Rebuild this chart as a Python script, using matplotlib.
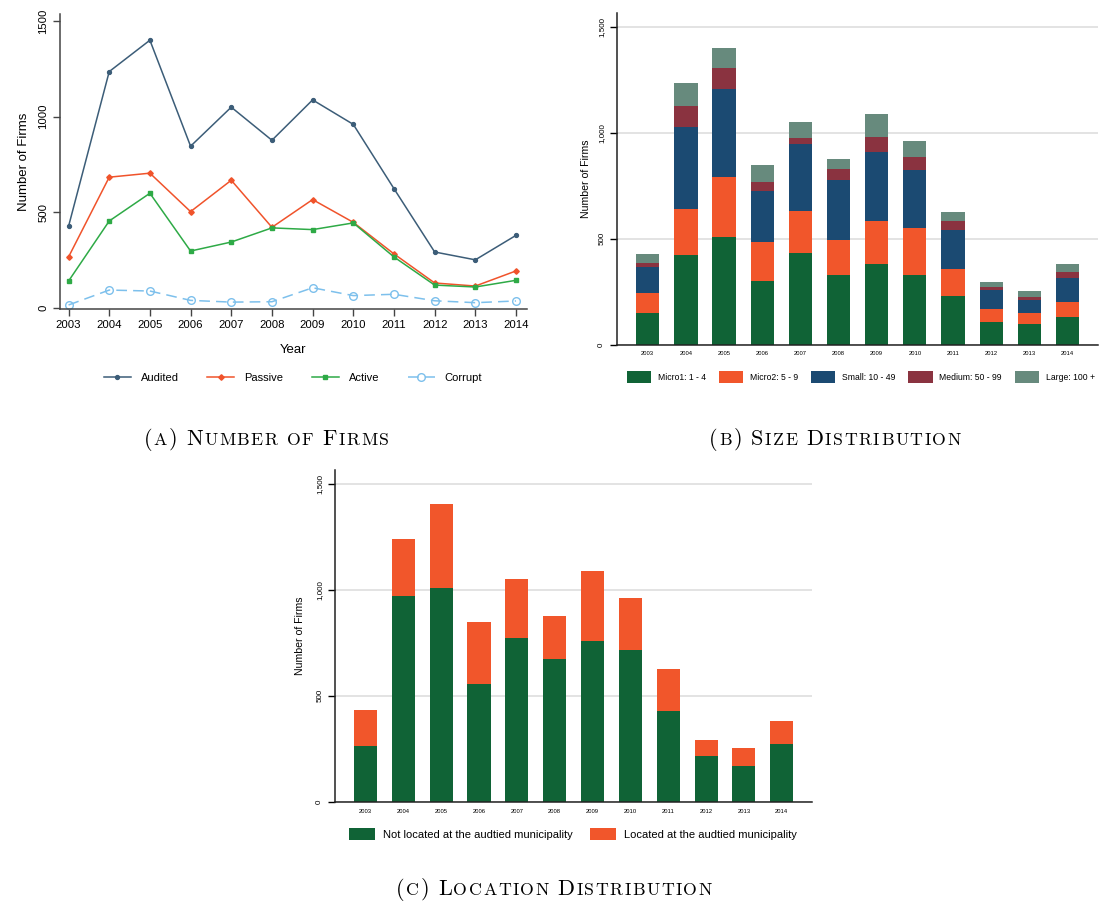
import numpy as np
import matplotlib
matplotlib.use('Agg')
import matplotlib.pyplot as plt
from matplotlib.transforms import IdentityTransform

plt.rcParams['font.family'] = ['Liberation Sans', 'DejaVu Sans']

years = [2003, 2004, 2005, 2006, 2007, 2008, 2009, 2010, 2011, 2012, 2013, 2014]

# firm counts by status
audited = [427, 1236, 1400, 846, 1050, 877, 1088, 960, 624, 293, 252, 380]
passive = [267, 684, 705, 504, 668, 422, 567, 448, 283, 131, 115, 194]
active = [141, 455, 600, 298, 345, 419, 410, 445, 267, 120, 110, 145]
corrupt = [16, 94, 89, 40, 31, 33, 106, 65, 72, 38, 28, 37]

# firm size classes
micro1 = [148, 422, 507, 298, 430, 328, 380, 328, 228, 106, 96, 129]
micro2 = [93, 218, 284, 184, 200, 165, 203, 222, 128, 61, 52, 71]
small = [123, 387, 416, 243, 317, 284, 326, 274, 184, 91, 63, 114]
medium = [20, 100, 99, 42, 28, 52, 71, 62, 43, 13, 13, 28]
large = [43, 109, 94, 79, 75, 48, 108, 74, 41, 22, 28, 38]
size_labels = ['Micro1: 1 - 4', 'Micro2: 5 - 9', 'Small: 10 - 49', 'Medium: 50 - 99', 'Large: 100 +']

# location of firms
not_local = [262, 971, 1008, 555, 772, 673, 758, 715, 427, 214, 167, 271]
local = [170, 269, 396, 291, 278, 204, 330, 245, 197, 79, 85, 109]
loc_labels = ['Not located at the audtied municipality', 'Located at the audtied municipality']

c_green = '#106336'
c_orange = '#f1562b'
c_blue = '#1b4a72'
c_red = '#8a3340'
c_gray = '#678a7d'

W, H = 1099, 908
fig = plt.figure(figsize=(W / 100, H / 100), dpi=100)


def box(l, t, r, b):
    return [l / W, 1 - b / H, (r - l) / W, (b - t) / H]


x = np.array(years)

# ---- (a) number of firms
axA = fig.add_axes(box(60, 14, 527, 309))
axA.plot(x, audited, '-o', color='#3c5d78', lw=1.1, ms=2.8, label='Audited')
axA.plot(x, passive, '-D', color='#f0532b', lw=1.1, ms=2.8, label='Passive')
axA.plot(x, active, '-s', color='#2eaa46', lw=1.1, ms=3.2, label='Active')
axA.plot(x, corrupt, '--o', color='#7dc0ec', lw=1.1, ms=5.5, mfc='none', mew=1.0,
         dashes=(7, 4), label='Corrupt')
axA.set_xlim(2003 - 0.21, 2014 + 0.27)
axA.set_ylim(-5, 1537)
axA.set_xticks(years)
axA.set_yticks([0, 500, 1000, 1500])
axA.tick_params(axis='y', labelrotation=90, labelsize=8.2, length=5, width=1, color='#444444')
axA.tick_params(axis='x', labelsize=8.2, length=5, width=1, color='#444444', pad=3)
for lab in axA.get_yticklabels():
    lab.set_va('center')
axA.set_ylabel('Number of Firms', fontsize=9.5, labelpad=6)
axA.set_xlabel('Year', fontsize=9.5, labelpad=10)
for s in ['top', 'right']:
    axA.spines[s].set_visible(False)
for s in ['left', 'bottom']:
    axA.spines[s].set_color('#444444')
    axA.spines[s].set_linewidth(1.1)
fig.legend(*axA.get_legend_handles_labels(), loc='center', bbox_to_anchor=(293 / W, 1 - 378 / H),
           ncol=4, frameon=False, fontsize=8, handlelength=2.4, handletextpad=0.9,
           columnspacing=2.6)


def bar_axes(rect, lpad):
    ax = fig.add_axes(rect)
    ax.set_xlim(2003 - 0.805, 2014 + 0.80)
    ax.set_ylim(0, 1565)
    ax.set_yticks([0, 500, 1000, 1500])
    ax.set_yticklabels(['0', '500', '1,000', '1,500'])
    ax.set_xticks(years)
    ax.tick_params(axis='y', labelrotation=90, labelsize=5.8, length=5, width=1)
    ax.tick_params(axis='x', labelsize=4.2, length=0, pad=5)
    for lab in ax.get_yticklabels():
        lab.set_va('center')
    ax.grid(axis='y', color='#e0e0e0', lw=1.3)
    ax.set_axisbelow(True)
    for s in ['top', 'right']:
        ax.spines[s].set_visible(False)
    for s in ['left', 'bottom']:
        ax.spines[s].set_linewidth(1.1)
        ax.spines[s].set_color('#222222')
    ax.set_ylabel('Number of Firms', fontsize=7.6, labelpad=lpad)
    return ax


# ---- (b) size distribution
axB = bar_axes(box(617, 13, 1098, 344.5), 5)
bottom = np.zeros(len(years))
size_colors = [c_green, c_orange, c_blue, c_red, c_gray]
for vals, col, lab in zip([micro1, micro2, small, medium, large], size_colors, size_labels):
    axB.bar(x, vals, 0.61, bottom=bottom, color=col, label=lab)
    bottom += np.array(vals)
fig.legend(*axB.get_legend_handles_labels(), loc='center', bbox_to_anchor=(861 / W, 1 - 377 / H),
           ncol=5, frameon=False, fontsize=6.2, handlelength=2.8, handleheight=1.75,
           handletextpad=0.8, columnspacing=1.5)

# ---- (c) location distribution
axC = bar_axes(box(335, 470, 812, 801.7), 8)
axC.bar(x, not_local, 0.61, color=c_green, label=loc_labels[0])
axC.bar(x, local, 0.61, bottom=not_local, color=c_orange, label=loc_labels[1])
fig.legend(*axC.get_legend_handles_labels(), loc='center', bbox_to_anchor=(573 / W, 1 - 834 / H),
           ncol=2, frameon=False, fontsize=8, handlelength=2.35, handleheight=1.35,
           handletextpad=0.72, columnspacing=1.6)


# captions in small caps: lowercase letters become smaller capitals,
# each glyph placed on its own with a little tracking
def smallcaps(xc, y, s, size=16, ratio=0.8, track=1.5):
    r = fig.canvas.get_renderer()
    space = 0.333 * size * 100 / 72
    placed = []
    pos = 0
    for ch in s:
        if ch == ' ':
            pos += space
            continue
        low = ch.islower()
        fs = size * ratio if low else size
        t = fig.text(0, y, ch.upper(), fontsize=fs, family='cmr10', va='baseline',
                     transform=IdentityTransform())
        wdt = t.get_window_extent(r).width
        placed.append((t, pos))
        pos += wdt + track
    pos -= track
    x0 = xc - pos / 2
    for t, p in placed:
        t.set_x(x0 + p)


smallcaps(266, H - 445, '(a) Number of Firms')
smallcaps(835, H - 445, '(b) Size Distribution')
smallcaps(554, H - 895, '(c) Location Distribution')

fig.savefig('out.png', dpi=100)
